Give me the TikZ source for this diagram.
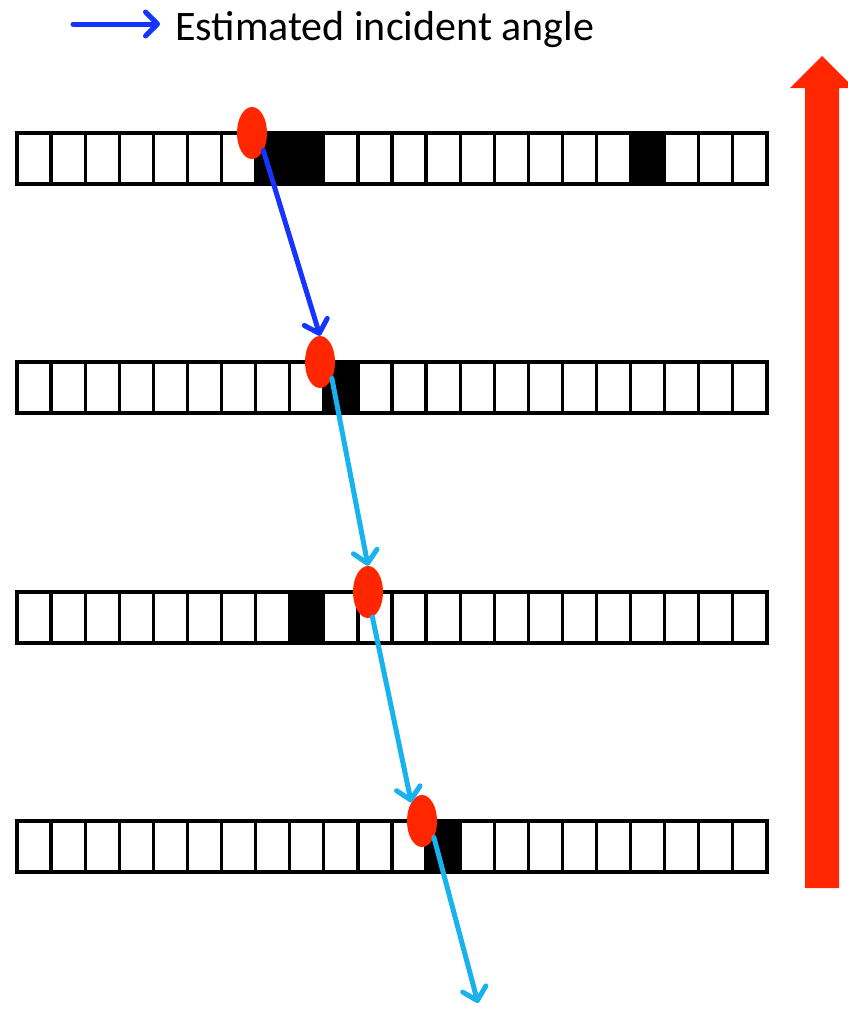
\documentclass[tikz,border=0pt]{standalone}
\usepackage{fontspec}
\setmainfont{Carlito}
\usetikzlibrary{arrows.meta,shapes.geometric}
\definecolor{hitred}{RGB}{255,38,0}
\definecolor{estblue}{RGB}{22,52,255}
\definecolor{trackblue}{RGB}{24,178,238}
\begin{document}
\begin{tikzpicture}[x=1pt,y=-1pt,
  cell/.style={draw=black,line width=3.2pt},
  hitcell/.style={cell,fill=black},
  hit/.style={ellipse,fill=hitred,minimum width=30pt,minimum height=52pt,inner sep=0pt},
  tipstyle/.style={-{Straight Barb[round,length=12pt,width=24pt]}},
  estarrow/.style={estblue,line width=5pt,line cap=round,tipstyle},
  trackarrow/.style={trackblue,line width=5pt,line cap=round,tipstyle},
  label/.style={font=\fontsize{42}{50}\selectfont,inner sep=0pt,anchor=base west}]
\clip (0,0) rectangle (848,1009);
\fill[white] (0,0) rectangle (848,1009);

% legend
\coordinate (legA) at (73,24);
\coordinate (legB) at (160,24);
\draw[estarrow] (legA) -- (legB);
\node[label] (legtext) at (175,40) {Estimated incident angle};

% detector layers: top edge y and the list of fired cells
\def\cw{34.09}
\foreach \y/\fired in {133/{7,8,18}, 362/{9}, 592/{8}, 821/{12}} {
  \foreach \i in {0,...,21}
    \draw[cell] (17+\i*\cw,\y) rectangle ++(\cw,51);
  \foreach \i in \fired
    \draw[hitcell] (17+\i*\cw,\y) rectangle ++(\cw,51);
}

% big red arrow
\fill[hitred] (805,888) -- (805,88) -- (790,88) -- (822,56) -- (854,88)
  -- (839,88) -- (839,888) -- cycle;

% hits
\node[hit] (e1) at (252,133) {};
\node[hit] (e2) at (320,362) {};
\node[hit] (e3) at (368,592) {};
\node[hit] (e4) at (422,821) {};
\coordinate (exit) at (478,1003);

% track segments
\draw[estarrow] (e1.-57) -- (e2.north);
\draw[trackarrow] (e2.-54) -- (e3.north);
\draw[trackarrow] (e3.-80) -- (e4.120);
\draw[trackarrow] (e4.-54) -- (exit);
\end{tikzpicture}
\end{document}
